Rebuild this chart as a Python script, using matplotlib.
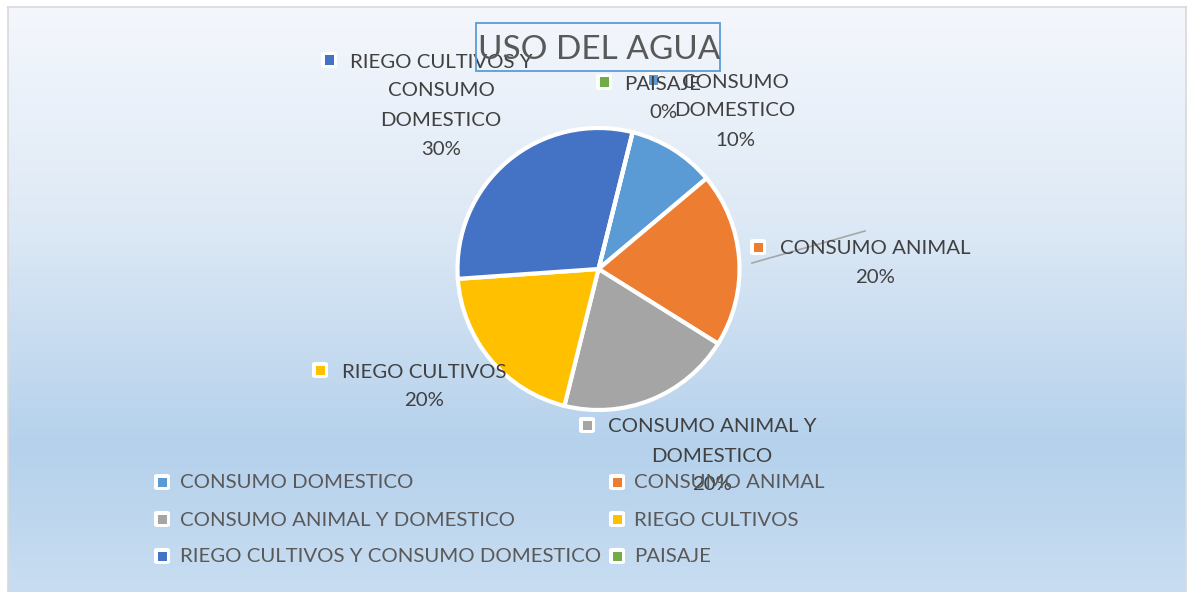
import numpy as np
import matplotlib
matplotlib.use("Agg")
import matplotlib.pyplot as plt
from matplotlib.colors import LinearSegmentedColormap
from matplotlib.patches import Rectangle, FancyBboxPatch

# ---- data ----
categories = ["CONSUMO DOMESTICO", "CONSUMO ANIMAL", "CONSUMO ANIMAL Y DOMESTICO",
              "RIEGO CULTIVOS", "RIEGO CULTIVOS Y CONSUMO DOMESTICO", "PAISAJE"]
values = [10, 20, 20, 20, 30, 0]
colors = ["#5B9BD5", "#ED7D31", "#A5A5A5", "#FFC000", "#4472C4", "#70AD47"]
label_lines = [["CONSUMO", "DOMESTICO"], ["CONSUMO ANIMAL"], ["CONSUMO ANIMAL Y", "DOMESTICO"],
               ["RIEGO CULTIVOS"], ["RIEGO CULTIVOS Y", "CONSUMO", "DOMESTICO"], ["PAISAJE"]]
title = "USO DEL AGUA"

W, H = 1188, 592
FONT = "Lato"
TXT = "#404040"
LEG_TXT = "#595959"
fig = plt.figure(figsize=(W / 100, H / 100), dpi=100)
fig.patch.set_facecolor("white")

def px(x, y):
    """pixel (from top-left) -> figure fraction"""
    return x / W, 1 - y / H

# ---- chart area with vertical gradient ----
bg = fig.add_axes([8 / W, 0, (W - 10) / W, (H - 7) / H])
cmap = LinearSegmentedColormap.from_list(
    "bg", [(0.0, "#F4F7FC"), (0.35, "#DFEAF6"), (0.75, "#B5D1EC"), (1.0, "#C8DDF1")])
grad = np.linspace(0, 1, 256).reshape(-1, 1)
bg.imshow(grad, aspect="auto", cmap=cmap, extent=[0, 1, 0, 1], origin="upper")
bg.set_xlim(0, 1); bg.set_ylim(0, 1)
bg.set_xticks([]); bg.set_yticks([])
for s in bg.spines.values():
    s.set_color("#D9D9D9"); s.set_linewidth(1.2)

# ---- pie ----
cx, cy, R = 598.5, 269, 141
ax = fig.add_axes([(cx - R) / W, (H - cy - R) / H, 2 * R / W, 2 * R / H])
ax.pie(values, colors=colors, startangle=76, counterclock=False,
       wedgeprops=dict(edgecolor="white", linewidth=3.0))
ax.set_xlim(-1, 1); ax.set_ylim(-1, 1)
ax.set_aspect("equal")
ax.axis("off")
ax.patch.set_alpha(0)

# ---- data labels (pixel anchors for each label block: marker x, first-line y, text centre x) ----
label_pos = [(653, 82, 735), (758, 249, 875), (587, 427, 712),
             (320, 372, 424), (329, 62, 441), (604, 84, 663)]
line_h = 29
fs = 14.7

def key_marker(x, y, color):
    bx, by = px(x - 8, y + 8)
    fig.patches.append(FancyBboxPatch((bx, by), 16 / W, 16 / H, boxstyle="round,pad=0,rounding_size=0.003",
                                      transform=fig.transFigure, facecolor="white", edgecolor="none", zorder=5))
    mx, my = px(x - 4.5, y + 4.5)
    fig.patches.append(Rectangle((mx, my), 9 / W, 9 / H, transform=fig.transFigure,
                                 facecolor=color, edgecolor="none", zorder=6))

# leader line for CONSUMO ANIMAL
fig.lines.append(plt.Line2D([752 / W, 865 / W], [1 - 263 / H, 1 - 231 / H], transform=fig.transFigure,
                            color="#A6A6A6", linewidth=1.2, zorder=4))

for i in [0, 1, 2, 3, 4, 5]:
    mx, y0, tx = label_pos[i]
    key_marker(mx, y0 - 2, colors[i])
    lines = label_lines[i] + ["%d%%" % round(100 * values[i] / sum(values))]
    for k, t in enumerate(lines):
        fig.text(*px(tx, y0 + k * line_h), t, ha="center", va="center", fontsize=fs,
                 family=FONT, color=TXT, zorder=7)

# ---- title ----
tb = px(476, 71)
fig.patches.append(Rectangle(tb, (720 - 476) / W, (71 - 23) / H, transform=fig.transFigure,
                             facecolor="none", edgecolor="#5B9BD5", linewidth=1.3, zorder=8))
fig.text(*px(599, 50), title, ha="center", va="center", fontsize=24, family=FONT,
         color="#595959", zorder=9)

# ---- legend (two columns, row-major order) ----
leg_rows = [482, 519, 556]
leg_cols = [(162, 180), (617, 634)]
for i, name in enumerate(categories):
    r, c = divmod(i, 2)
    mx, tx = leg_cols[c]
    y = leg_rows[r]
    key_marker(mx, y, colors[i])
    fig.text(*px(tx, y + 1), name, ha="left", va="center", fontsize=fs, family=FONT,
             color=LEG_TXT, zorder=7)

fig.savefig("out.png", dpi=100)
